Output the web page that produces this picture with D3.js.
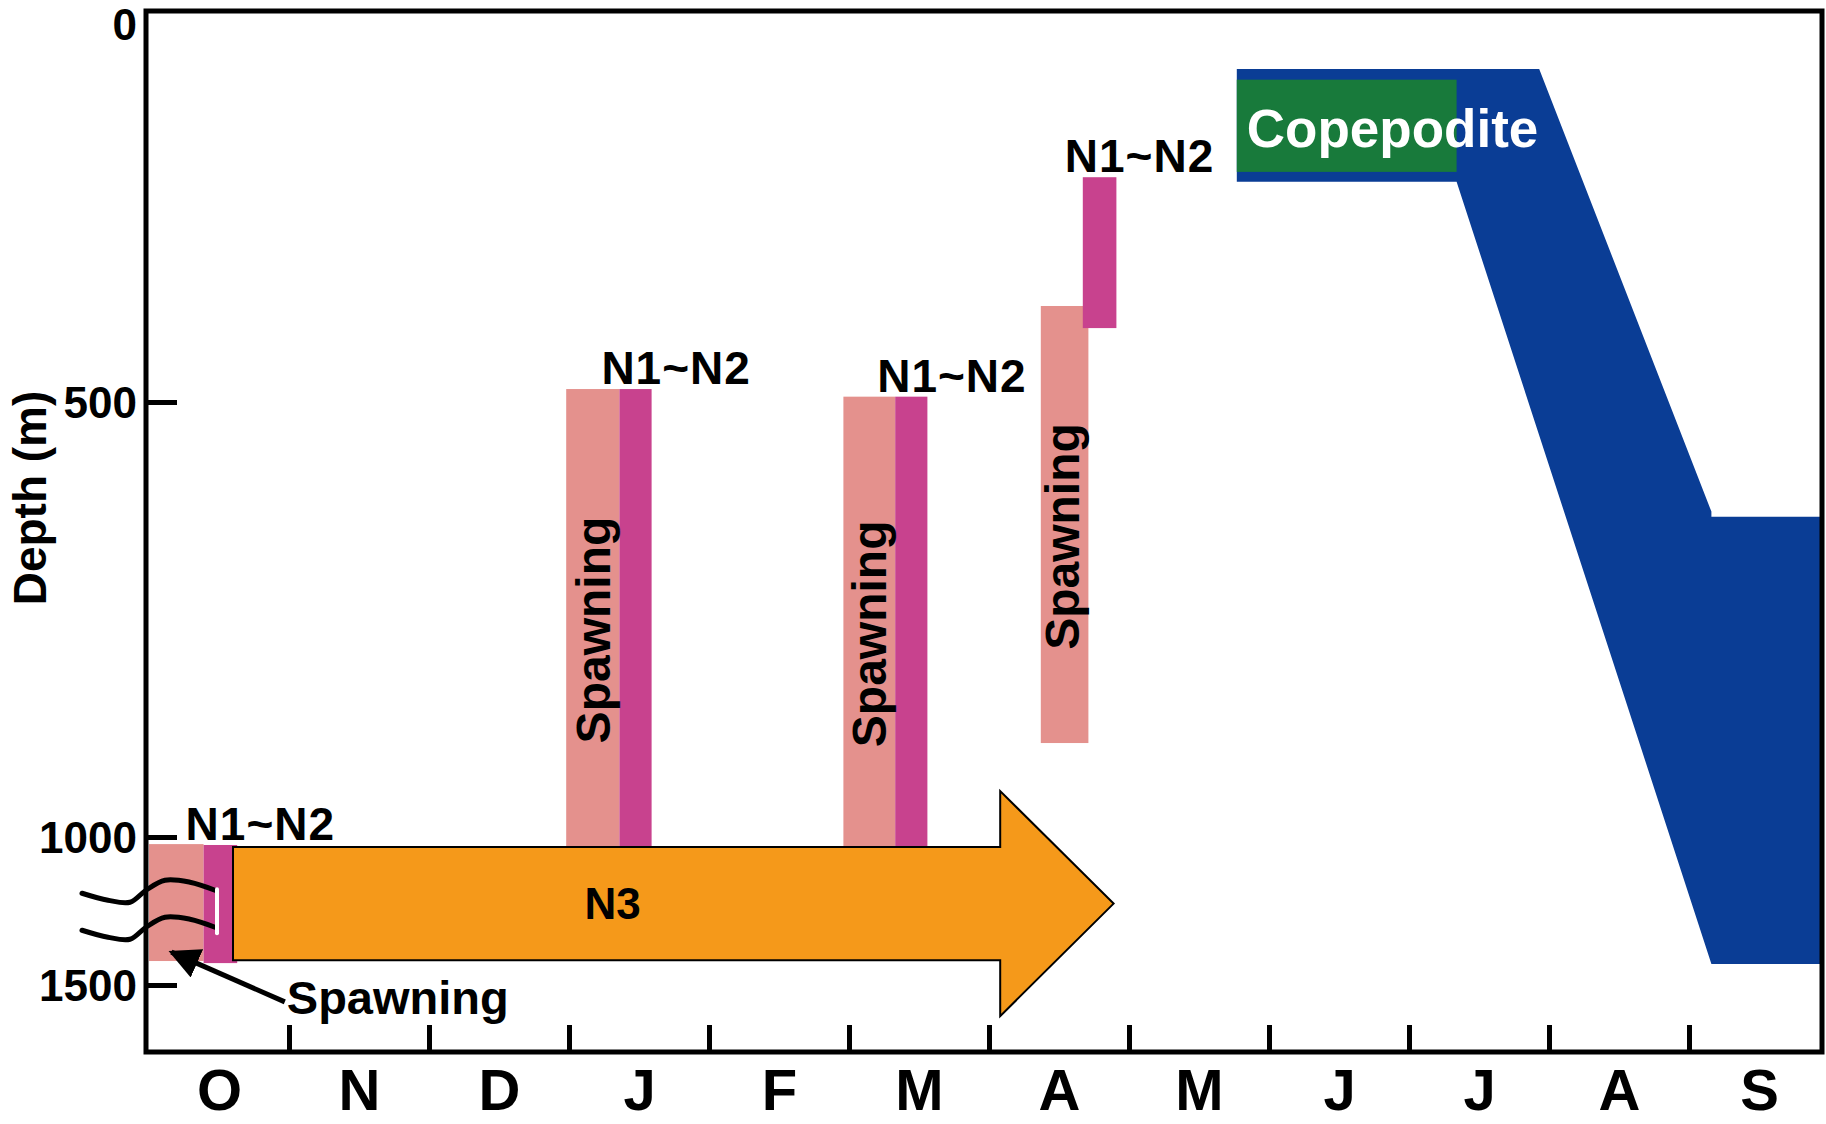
<!DOCTYPE html>
<html>
<head>
<title>Depth timeline</title>
<style>
html, body { margin: 0; padding: 0; background: #fff; }
svg { display: block; background: #fff; }
text { font-family: "Liberation Sans", Arial, sans-serif; font-weight: bold; }
</style>
</head>
<body>
<svg width="1826" height="1124"></svg>
<script src="https://cdnjs.cloudflare.com/ajax/libs/d3/7.8.5/d3.min.js"></script>
<script>
// x is in months from the start of October, y is depth in metres
let months = ["O", "N", "D", "J", "F", "M", "A", "M", "J", "J", "A", "S"];
let depthTicks = [0, 500, 1000, 1500];

// pink bars (spawning): month start/end, depth top/bottom
let spawning = [
    {x0: 0.00, x1: 0.39, top: 1024, bottom: 1419},
    {x0: 2.98, x1: 3.36, top: 483, bottom: 1034},
    {x0: 4.96, x1: 5.33, top: 493, bottom: 1034},
    {x0: 6.37, x1: 6.71, top: 374, bottom: 892}
];
let spawningLabels = [false, true, true, true];

// magenta bars (N1~N2)
let nauplii = [
    {x0: 0.39, x1: 0.63, top: 1027, bottom: 1426},
    {x0: 3.36, x1: 3.59, top: 483, bottom: 1034},
    {x0: 5.33, x1: 5.56, top: 493, bottom: 1034},
    {x0: 6.67, x1: 6.91, top: 205, bottom: 403}
];

// N3 arrow
let n3 = {x0: 0.60, x1: 6.08, tip: 6.89, top: 1034, bottom: 1416};

// copepodite band, upper edge then lower edge
let copeUpper = [[7.77, 63], [9.93, 63], [11.16, 626], [11.16, 632], [11.95, 632]];
let copeLower = [[7.77, 211], [9.34, 211], [11.16, 1429], [11.95, 1429]];
let copeBox = {x0: 7.77, x1: 9.34, top: 77, bottom: 198};

// arrow pointing at the october spawning
let octArrow = {from: [0.97, 1557], to: [0.16, 1389]};

let pink = "#e4918d", magenta = "#c8428e", orange = "#f5991a", blue = "#0a3d95", green = "#187a3b";

let svg = d3.select("svg");

let x = d3.scaleLinear().domain([0, 12]).range([149, 1829]);
// the depth axis is not evenly spaced in the original
let y = d3.scaleLinear().domain(depthTicks).range([21, 402, 837, 985]);

// copepodite
let poly = copeUpper.concat(copeLower.slice().reverse());
svg.append("path")
    .attr("d", d3.line().x(d => x(d[0])).y(d => y(d[1]))(poly) + "Z")
    .attr("fill", blue);
svg.append("rect")
    .attr("x", x(copeBox.x0))
    .attr("y", y(copeBox.top))
    .attr("width", x(copeBox.x1) - x(copeBox.x0))
    .attr("height", y(copeBox.bottom) - y(copeBox.top))
    .attr("fill", green);
svg.append("text")
    .attr("x", x(copeBox.x0) + 10)
    .attr("y", (y(copeBox.top) + y(copeBox.bottom)) / 2)
    .attr("dy", "0.4em")
    .attr("font-size", 53)
    .attr("fill", "#fff")
    .text("Copepodite");

// bars
svg.selectAll(".spawn").data(spawning).enter().append("rect")
    .attr("class", "spawn")
    .attr("x", d => x(d.x0))
    .attr("y", d => y(d.top))
    .attr("width", d => x(d.x1) - x(d.x0))
    .attr("height", d => y(d.bottom) - y(d.top))
    .attr("fill", pink);
svg.selectAll(".naup").data(nauplii).enter().append("rect")
    .attr("class", "naup")
    .attr("x", d => x(d.x0))
    .attr("y", d => y(d.top))
    .attr("width", d => x(d.x1) - x(d.x0))
    .attr("height", d => y(d.bottom) - y(d.top))
    .attr("fill", magenta);

// N3 arrow
let yt = y(n3.top), yb = y(n3.bottom), head = 56;
let arrowPts = [
    [x(n3.x0), yt], [x(n3.x1), yt], [x(n3.x1), yt - head],
    [x(n3.tip), (yt + yb) / 2],
    [x(n3.x1), yb + head], [x(n3.x1), yb], [x(n3.x0), yb]
];
svg.append("path")
    .attr("d", d3.line()(arrowPts) + "Z")
    .attr("fill", orange)
    .attr("stroke", "#000")
    .attr("stroke-width", 2)
    .attr("stroke-linejoin", "miter");
svg.append("text")
    .attr("x", (x(n3.x0) + x(n3.x1)) / 2 - 4)
    .attr("y", (yt + yb) / 2)
    .attr("dy", "0.36em")
    .attr("text-anchor", "middle")
    .attr("font-size", 44)
    .text("N3");

// frame
svg.append("rect")
    .attr("x", 146).attr("y", 11)
    .attr("width", 1822 - 146).attr("height", 1052 - 11)
    .attr("fill", "none")
    .attr("stroke", "#000")
    .attr("stroke-width", 5);

// x axis
let xAxis = svg.append("g")
    .attr("transform", "translate(0,1052)")
    .call(d3.axisBottom(x).tickValues(d3.range(1, 12)).tickSizeInner(-27).tickSizeOuter(0).tickFormat(""));
xAxis.select(".domain").remove();
xAxis.selectAll("line").attr("stroke-width", 5);

let xLab = svg.append("g")
    .attr("transform", "translate(0,1052)")
    .call(d3.axisBottom(x).tickValues(d3.range(0.5, 12)).tickSize(0).tickFormat((d, i) => months[i]));
xLab.select(".domain").remove();
xLab.selectAll("text")
    .attr("y", 58).attr("dy", null)
    .attr("font-size", 58)
    .attr("font-family", null)
    .attr("fill", "#000");

// y axis
let yAxis = svg.append("g")
    .attr("transform", "translate(146,0)")
    .call(d3.axisLeft(y).tickValues(depthTicks).tickSizeInner(-31).tickSizeOuter(0).tickPadding(9)
        .tickFormat(d3.format("d")));
yAxis.select(".domain").remove();
yAxis.selectAll("line").attr("stroke-width", 5).filter(d => d === 0).remove();
yAxis.selectAll("text")
    .attr("font-size", 44)
    .attr("font-family", null)
    .attr("dy", d => d === 0 ? "0.43em" : "0.36em")
    .attr("fill", "#000");

svg.append("text")
    .attr("transform", "translate(46," + (y(500) + 96) + ") rotate(-90)")
    .attr("text-anchor", "middle")
    .attr("font-size", 46)
    .text("Depth (m)");

// axis break marks
let bx = x(0), by = y(1190);
let wave = [[-67, 0], [-41, 7], [-19, 9], [-3, -3], [16, -13], [41, -11], [66, -3]];
let waveLine = d3.line().curve(d3.curveCatmullRom);
[0, 37].forEach(off => {
    svg.append("path")
        .attr("d", waveLine(wave.map(p => [bx + p[0], by + p[1] + off])))
        .attr("fill", "none")
        .attr("stroke", "#000")
        .attr("stroke-width", 5)
        .attr("stroke-linecap", "round");
});
svg.append("line")
    .attr("x1", bx + 68).attr("x2", bx + 68)
    .attr("y1", by - 4).attr("y2", by + 40)
    .attr("stroke", "#fff")
    .attr("stroke-width", 4)
    .attr("stroke-linecap", "round");

// N1~N2 labels
svg.selectAll(".nlab").data(nauplii).enter().append("text")
    .attr("class", "nlab")
    .attr("x", d => x(d.x0) - 18)
    .attr("y", d => y(d.top) - 5)
    .attr("font-size", 46)
    .attr("letter-spacing", 1)
    .text("N1~N2");

// vertical spawning labels
svg.selectAll(".slab").data(spawning.filter((d, i) => spawningLabels[i])).enter().append("text")
    .attr("class", "slab")
    .attr("transform", d => "translate(" + (x(d.x1) - 9) + "," + ((y(d.top) + y(d.bottom)) / 2 + 12) + ") rotate(-90)")
    .attr("text-anchor", "middle")
    .attr("font-size", 48)
    .text("Spawning");

// october spawning annotation
let ax0 = x(octArrow.from[0]), ay0 = y(octArrow.from[1]);
let ax1 = x(octArrow.to[0]), ay1 = y(octArrow.to[1]);
svg.append("defs").append("marker")
    .attr("id", "head")
    .attr("viewBox", "0 0 10 10")
    .attr("refX", 9).attr("refY", 5)
    .attr("markerWidth", 6.2).attr("markerHeight", 6.2)
    .attr("orient", "auto")
    .append("path")
    .attr("d", "M0,0L10,5L0,10Z")
    .attr("fill", "#000");
svg.append("line")
    .attr("x1", ax0).attr("y1", ay0)
    .attr("x2", ax1).attr("y2", ay1)
    .attr("stroke", "#000")
    .attr("stroke-width", 5)
    .attr("marker-end", "url(#head)");
svg.append("text")
    .attr("x", ax0 + 2)
    .attr("y", ay0 + 12)
    .attr("font-size", 47)
    .text("Spawning");
</script>
</body>
</html>
